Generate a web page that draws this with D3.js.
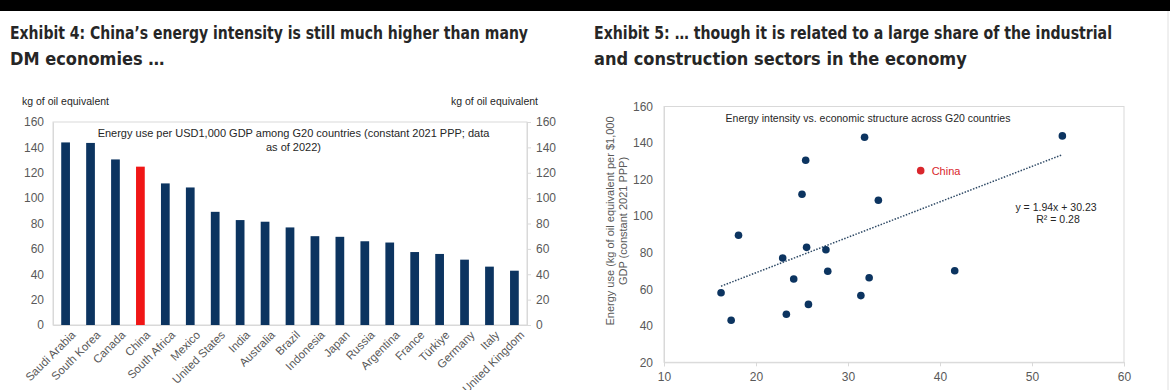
<!DOCTYPE html>
<html><head><meta charset="utf-8">
<script src="https://cdn.jsdelivr.net/npm/d3@7"></script>
<style>
html,body{margin:0;padding:0;background:#fff;}
svg{display:block;}
text{font-family:"Liberation Sans",Arial,sans-serif;}
.title{font-family:"Liberation Sans Narrow","DejaVu Sans Condensed","Roboto Condensed",sans-serif;font-weight:bold;font-size:18px;fill:#262626;}
</style></head>
<body>
<svg id="c" width="1170" height="390"></svg>
<script>
// ---------- data ----------
const countries = ["Saudi Arabia","South Korea","Canada","China","South Africa","Mexico","United States","India","Australia","Brazil","Indonesia","Japan","Russia","Argentina","France","Türkiye","Germany","Italy","United Kingdom"];
const energyUse = [143.9,143.5,130.5,124.8,111.6,108.4,89.2,82.7,81.4,76.9,70.0,69.5,66.0,65.0,57.5,56.0,51.5,46.0,42.8];
const barTicks = [0,20,40,60,80,100,120,140,160];

// scatter: industry+construction share (x) vs energy intensity (y)
const scatterNames = ["Saudi Arabia","South Korea","Canada","China","South Africa","Mexico","United States","India","Australia","Brazil","Indonesia","Japan","Russia","Argentina","France","Türkiye","Germany","Italy","United Kingdom"];
const scatterX = [31.8,53.3,25.4,37.9,25.0,33.3,18.1,25.5,27.6,22.9,41.6,27.8,32.3,24.1,16.2,31.4,25.7,23.3,17.3];
const scatterY = [143.2,143.9,130.6,124.9,112.0,108.7,89.5,82.9,81.6,77.1,70.1,69.8,66.3,65.6,58.1,56.5,51.7,46.3,43.0];
const scXTicks = [10,20,30,40,50,60];
const scYTicks = [20,40,60,80,100,120,140,160];
const trendSlope = 1.94, trendIntercept = 30.23, trendR2 = 0.28;

const navy = "#0c3460", red = "#f01616", redDot = "#d9262c", grey = "#595959", border = "#d9d9d9";

const svg = d3.select("#c");
// top band
svg.append("rect").attr("x",0).attr("y",0).attr("width",1170).attr("height",11).attr("fill","#000");
svg.append("line").attr("x1",1168).attr("x2",1168).attr("y1",11).attr("y2",390).attr("stroke","#e0e0e0");

// titles
function title(x, lines, y0, w1){
  lines.forEach((t,i)=>{
    const tx = svg.append("text").attr("class","title").attr("x",x).attr("y",y0+i*25.5).text(t);
    if(i===0 && w1) tx.attr("textLength",w1).attr("lengthAdjust","spacingAndGlyphs");
  });
}
title(10, ["Exhibit 4: China\u2019s energy intensity is still much higher than many","DM economies \u2026"], 39, 518);
title(594, ["Exhibit 5: \u2026 though it is related to a large share of the industrial","and construction sectors in the economy"], 39, 518);

// ---------- bar chart ----------
const bL = 53, bR = 527, bT = 122, bB = 325;
const xb = d3.scaleBand().domain(countries).range([bL,bR]).paddingInner(0.65).paddingOuter(0.33);
const yb = d3.scaleLinear().domain([0,160]).range([bB,bT]);

svg.append("rect").attr("x",bL).attr("y",bT).attr("width",bR-bL).attr("height",bB-bT)
  .attr("fill","none").attr("stroke",border);

svg.append("g").selectAll("rect").data(countries).join("rect")
  .attr("x",d=>xb(d)).attr("width",xb.bandwidth())
  .attr("y",(d,i)=>yb(energyUse[i])).attr("height",(d,i)=>bB-yb(energyUse[i]))
  .attr("fill",d=>d==="China"?red:navy);

const axL = svg.append("g").attr("transform",`translate(${bL},0)`)
  .call(d3.axisLeft(yb).tickValues(barTicks).tickSize(0).tickPadding(9));
const axR = svg.append("g").attr("transform",`translate(${bR},0)`)
  .call(d3.axisRight(yb).tickValues(barTicks).tickSize(4).tickPadding(5));
[axL,axR].forEach(a=>{a.select(".domain").attr("stroke",border);a.selectAll("line").attr("stroke",border);
  a.selectAll("text").attr("fill",grey).style("font-size","12px").style("font-family","Liberation Sans, Arial, sans-serif");});

const axB = svg.append("g").attr("transform",`translate(0,${bB})`)
  .call(d3.axisBottom(xb).tickSize(0));
axB.select(".domain").attr("stroke",border);
axB.selectAll("text").attr("fill",grey).style("font-size","11.5px").style("font-family","Liberation Sans, Arial, sans-serif")
  .attr("text-anchor","end").attr("transform","translate(5,5) rotate(-45)").attr("dy","0.7em").attr("y",0).attr("x",0);

svg.append("text").attr("x",22).attr("y",105).attr("fill","#262626").style("font-size","10.5px").text("kg of oil equivalent");
svg.append("text").attr("x",538).attr("y",105).attr("text-anchor","end").attr("fill","#262626").style("font-size","10.5px").text("kg of oil equivalent");

svg.append("text").attr("x",293.5).attr("y",137).attr("text-anchor","middle").attr("fill","#262626").style("font-size","11px")
  .text("Energy use per USD1,000 GDP among G20 countries (constant 2021 PPP; data");
svg.append("text").attr("x",293.5).attr("y",151).attr("text-anchor","middle").attr("fill","#262626").style("font-size","11px")
  .text("as of 2022)");

// ---------- scatter ----------
const sL = 664, sR = 1124, sT = 106.5, sB = 362.3;
const xs = d3.scaleLinear().domain([10,60]).range([sL,sR]);
const ys = d3.scaleLinear().domain([20,160]).range([sB,sT]);

svg.append("rect").attr("x",sL).attr("y",sT).attr("width",sR-sL).attr("height",sB-sT)
  .attr("fill","none").attr("stroke",border);

const sxA = svg.append("g").attr("transform",`translate(0,${sB})`)
  .call(d3.axisBottom(xs).tickValues(scXTicks).tickSize(4).tickPadding(6));
const syA = svg.append("g").attr("transform",`translate(${sL},0)`)
  .call(d3.axisLeft(ys).tickValues(scYTicks).tickSize(0).tickPadding(11));
[sxA,syA].forEach(a=>{a.select(".domain").attr("stroke",border);a.selectAll("line").attr("stroke",border);
  a.selectAll("text").attr("fill",grey).style("font-size","12px").style("font-family","Liberation Sans, Arial, sans-serif");});

// y label
const yl = svg.append("text").attr("transform","translate(0,221) rotate(-90)").attr("text-anchor","middle")
  .attr("fill",grey).style("font-size","11px");
yl.append("tspan").attr("x",0).attr("y",614).text("Energy use (kg of oil equivalent per $1,000");
yl.append("tspan").attr("x",0).attr("y",627).text("GDP (constant 2021 PPP)");

// trend line
const xMin = d3.min(scatterX), xMax = d3.max(scatterX);
svg.append("line").attr("x1",xs(xMin)).attr("y1",ys(trendSlope*xMin+trendIntercept))
  .attr("x2",xs(xMax)).attr("y2",ys(trendSlope*xMax+trendIntercept))
  .attr("stroke","#2f4a66").attr("stroke-width",1.5).attr("stroke-dasharray","1.5,1.5");

svg.append("g").selectAll("circle").data(scatterNames).join("circle")
  .attr("cx",(d,i)=>xs(scatterX[i])).attr("cy",(d,i)=>ys(scatterY[i])).attr("r",3.8)
  .attr("fill",d=>d==="China"?redDot:navy);

const ci = scatterNames.indexOf("China");
svg.append("text").attr("x",xs(scatterX[ci])+11).attr("y",ys(scatterY[ci])+4).attr("fill",redDot)
  .style("font-size","11px").text("China");

svg.append("text").attr("x",868).attr("y",122).attr("text-anchor","middle").attr("fill","#262626").style("font-size","10.5px")
  .text("Energy intensity vs. economic structure across G20 countries");
svg.append("text").attr("x",1056).attr("y",211).attr("text-anchor","middle").attr("fill","#262626").style("font-size","10.5px")
  .text(`y = ${trendSlope}x + ${trendIntercept}`);
svg.append("text").attr("x",1058).attr("y",223).attr("text-anchor","middle").attr("fill","#262626").style("font-size","10.5px")
  .text(`R\u00b2 = ${trendR2}`);
</script>
</body></html>
